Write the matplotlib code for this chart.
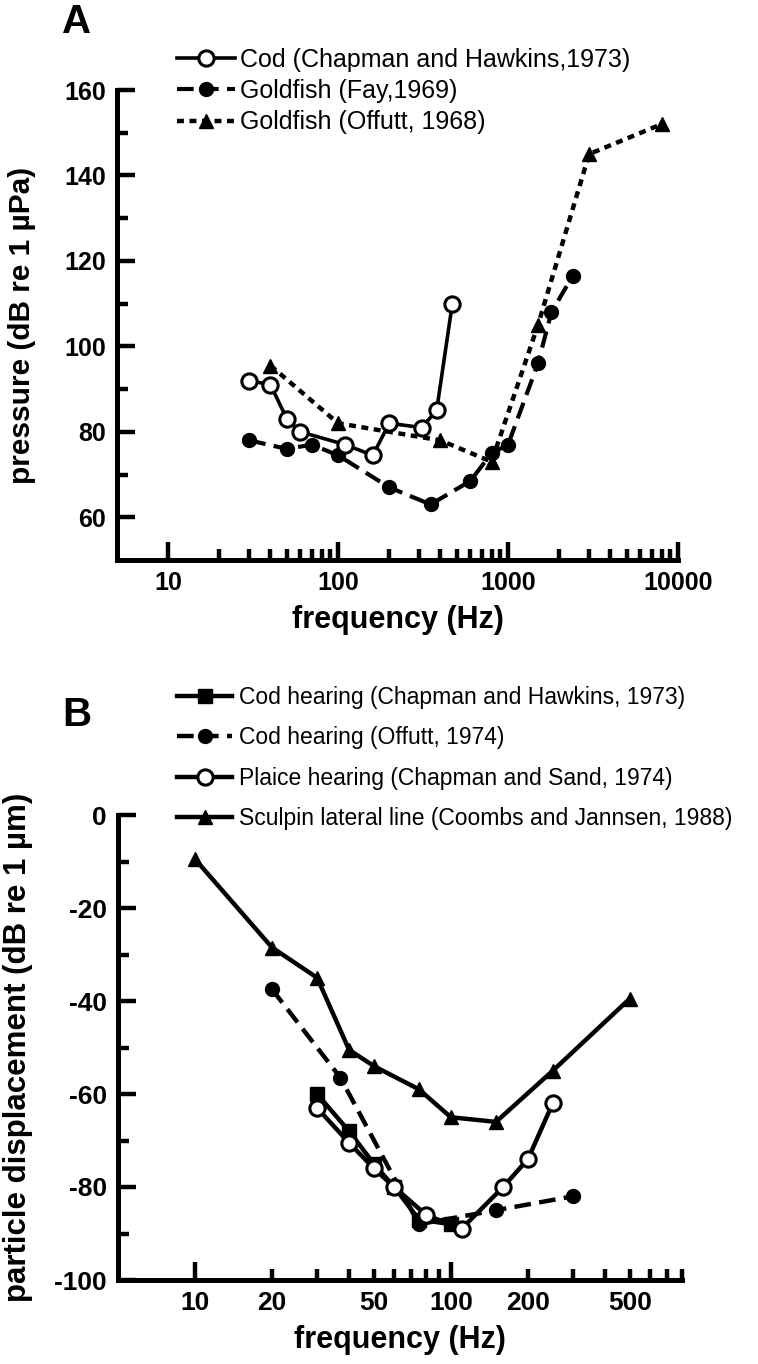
import numpy as np
import matplotlib
matplotlib.use("Agg")
import matplotlib.pyplot as plt
from matplotlib.ticker import FixedLocator, FuncFormatter, NullFormatter

plt.rcParams['font.family'] = ['Liberation Sans', 'DejaVu Sans']
plt.rcParams['lines.scale_dashes'] = False
plt.rcParams['axes.unicode_minus'] = False

# ---- Panel A: pressure thresholds ----
cod_f = [30, 40, 50, 60, 110, 160, 200, 310, 380, 470]
cod_db = [92, 91, 83, 80, 77, 74.5, 82, 81, 85, 110]
fay_f = [30, 50, 70, 100, 200, 350, 600, 800, 1000, 1500, 1800, 2400]
fay_db = [78, 76, 77, 74.5, 67, 63, 68.5, 75, 77, 96, 108, 116.5]
offutt68_f = [40, 100, 400, 800, 1500, 3000, 8000]
offutt68_db = [95.5, 82, 78, 73, 105, 145, 152]

# ---- Panel B: particle displacement thresholds ----
codch_f = [30, 40, 50, 60, 75, 100]
codch_db = [-60, -68, -75, -80, -87, -88]
offutt74_f = [20, 37, 75, 150, 300]
offutt74_db = [-37.5, -56.5, -88, -85, -82]
plaice_f = [30, 40, 50, 60, 80, 110, 160, 200, 250]
plaice_db = [-63, -70.5, -76, -80, -86, -89, -80, -74, -62]
sculpin_f = [10, 20, 30, 40, 50, 75, 100, 150, 250, 500]
sculpin_db = [-9.5, -28.5, -35, -50.5, -54, -59, -65, -66, -55, -39.5]

W, H = 758, 1364
fig = plt.figure(figsize=(W / 100, H / 100), dpi=100)


def px_axes(left, right, top, bottom):
    return fig.add_axes([left / W, 1 - bottom / H, (right - left) / W, (bottom - top) / H])


def style_axis(ax, tick_size):
    for s in ['top', 'right']:
        ax.spines[s].set_visible(False)
    for s in ['left', 'bottom']:
        ax.spines[s].set_linewidth(3.6)
        ax.spines[s].set_capstyle('projecting')
    ax.tick_params(which='major', direction='in', length=13, width=3.2, pad=8,
                   labelsize=tick_size)
    ax.tick_params(which='minor', direction='in', length=8, width=3.2, pad=8,
                   labelsize=tick_size)
    for lab in ax.get_xticklabels(which='both') + ax.get_yticklabels(which='both'):
        lab.set_fontweight('bold')


def log_minor(lo, hi):
    vals = []
    for dec in [10, 100, 1000]:
        for m in range(2, 10):
            v = m * dec
            if lo < v < hi:
                vals.append(v)
    return vals


open_c = dict(marker='o', markerfacecolor='white', markeredgecolor='black', markeredgewidth=2.2)

# ---------------- A ----------------
axA = px_axes(117, 678, 90, 560)
axA.plot(fay_f, fay_db, color='black', lw=3, dashes=(12, 6), marker='o', ms=10,
         label='Goldfish (Fay,1969)', zorder=3)
axA.plot(offutt68_f, offutt68_db, color='black', lw=3.2, dashes=(5, 4), marker='^', ms=10,
         label='Goldfish (Offutt, 1968)', zorder=2)
axA.plot(cod_f, cod_db, color='black', lw=2.6, ms=11, label='Cod (Chapman and Hawkins,1973)',
         zorder=4, **open_c)
axA.set_xscale('log')
axA.set_xlim(5, 10000)
axA.set_ylim(50, 160)
axA.xaxis.set_major_locator(FixedLocator([10, 100, 1000, 10000]))
axA.xaxis.set_major_formatter(FuncFormatter(lambda v, p: f"{int(v)}"))
axA.xaxis.set_minor_locator(FixedLocator(log_minor(5, 10000)))
axA.xaxis.set_minor_formatter(NullFormatter())
axA.yaxis.set_major_locator(FixedLocator(np.arange(60, 161, 20)))
axA.yaxis.set_minor_locator(FixedLocator(np.arange(70, 160, 20)))
style_axis(axA, 18)
axA.set_xlabel('frequency (Hz)', fontsize=22, fontweight='bold', labelpad=7)
axA.set_ylabel('pressure (dB re 1 µPa)', fontsize=21.5, fontweight='bold')
axA.yaxis.set_label_coords(-0.145, 0.5)

hA, lA = axA.get_legend_handles_labels()
order = [2, 0, 1]
fig.legend([hA[i] for i in order], [lA[i] for i in order], loc='center left',
           bbox_to_anchor=(177 / W, 1 - 91 / H), frameon=False, fontsize=18,
           handlelength=2.3, handletextpad=0.22, labelspacing=0.3, borderpad=0,
           borderaxespad=0)
fig.text(62 / W, 1 - 22 / H, 'A', fontsize=29, fontweight='bold', ha='left', va='center')

# ---------------- B ----------------
axB = px_axes(118, 682, 815, 1280)
axB.plot(codch_f, codch_db, color='black', lw=3.2, marker='s', ms=10,
         label='Cod hearing (Chapman and Hawkins, 1973)', zorder=2)
axB.plot(offutt74_f, offutt74_db, color='black', lw=3.2, dashes=(12, 6), marker='o', ms=10,
         label='Cod hearing (Offutt, 1974)', zorder=3)
axB.plot(plaice_f, plaice_db, color='black', lw=3.2, ms=11,
         label='Plaice hearing (Chapman and Sand, 1974)', zorder=4, **open_c)
axB.plot(sculpin_f, sculpin_db, color='black', lw=3.2, marker='^', ms=10,
         label='Sculpin lateral line (Coombs and Jannsen, 1988)', zorder=2)
axB.set_xscale('log')
axB.set_xlim(5, 800)
axB.set_ylim(-100, 0)
axB.xaxis.set_major_locator(FixedLocator([10, 100]))
axB.xaxis.set_major_formatter(FuncFormatter(lambda v, p: f"{int(v)}"))
axB.xaxis.set_minor_locator(FixedLocator(log_minor(5, 801)))
axB.xaxis.set_minor_formatter(FuncFormatter(
    lambda v, p: f"{int(round(v))}" if int(round(v)) in (20, 50, 200, 500) else ""))
axB.yaxis.set_major_locator(FixedLocator(np.arange(-100, 1, 20)))
axB.yaxis.set_minor_locator(FixedLocator(np.arange(-90, 0, 20)))
style_axis(axB, 19)
axB.set_xlabel('frequency (Hz)', fontsize=22, fontweight='bold', labelpad=7)
axB.set_ylabel('particle displacement (dB re 1 µm)', fontsize=22.5, fontweight='bold')
axB.yaxis.set_label_coords(-0.15, 0.5)

fig.legend(*axB.get_legend_handles_labels(), loc='center left',
           bbox_to_anchor=(177 / W, 1 - 758 / H), frameon=False, fontsize=16.5,
           handlelength=2.4, handletextpad=0.3, labelspacing=0.75, borderpad=0,
           borderaxespad=0)
fig.text(62 / W, 1 - 715 / H, 'B', fontsize=29, fontweight='bold', ha='left', va='center')

fig.savefig('out.png', dpi=100)
